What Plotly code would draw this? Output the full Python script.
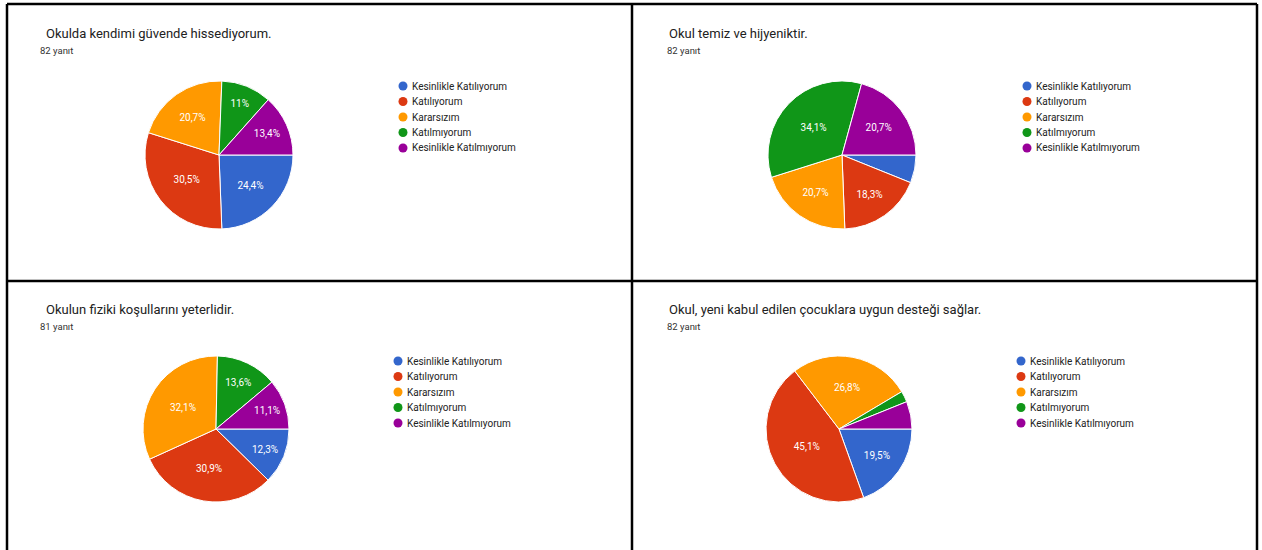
import plotly.graph_objects as go

W, H = 1262, 550

categories = ["Kesinlikle Katılıyorum", "Katılıyorum", "Kararsızım", "Katılmıyorum", "Kesinlikle Katılmıyorum"]
colors = ["#3366CC", "#DC3912", "#FF9900", "#109618", "#990099"]

titles = [
    "Okulda kendimi güvende hissediyorum.",
    "Okul temiz ve hijyeniktir.",
    "Okulun fiziki koşullarını yeterlidir.",
    "Okul, yeni kabul edilen çocuklara uygun desteği sağlar.",
]
subtitles = ["82 yanıt", "82 yanıt", "81 yanıt", "82 yanıt"]

# response counts per category (read from the percentages)
guvende = [20, 25, 17, 9, 11]
temiz = [5, 15, 17, 28, 17]
fiziki = [10, 25, 26, 11, 9]
destek = [16, 37, 22, 2, 5]
series = [guvende, temiz, fiziki, destek]

# panel layout (pixels): pie centre, radius, legend anchor, title anchor
panels = [
    dict(cx=219, cy=155, r=74, lx=403, ly=86, tx=44, ty=33, sx=38, sy=50),
    dict(cx=842, cy=155, r=74, lx=1027, ly=86, tx=667, ty=33, sx=665, sy=50),
    dict(cx=216, cy=429, r=73, lx=398, ly=361, tx=44, ty=309, sx=38, sy=326),
    dict(cx=839, cy=429, r=73, lx=1021, ly=361, tx=667, ty=309, sx=665, sy=326),
]


def px(x):
    return x / W


def py(y):
    return 1 - y / H


fig = go.Figure()
annotations = []
shapes = []
FONT = "Roboto, Arial, sans-serif"

for vals, title, sub, p in zip(series, titles, subtitles, panels):
    total = sum(vals)
    tt = ["%{percent}" if v / total >= 0.07 else "" for v in vals]
    fig.add_trace(go.Pie(
        labels=categories,
        values=vals,
        sort=False,
        direction="clockwise",
        rotation=90,
        marker=dict(colors=colors, line=dict(color="white", width=1)),
        textinfo="none",
        texttemplate=tt,
        textposition="inside",
        insidetextorientation="horizontal",
        textfont=dict(color="white", size=10, family=FONT),
        showlegend=False,
        domain=dict(x=[px(p["cx"] - p["r"]), px(p["cx"] + p["r"])],
                    y=[py(p["cy"] + p["r"]), py(p["cy"] - p["r"])]),
        hoverinfo="label+percent",
    ))
    annotations.append(dict(x=px(p["tx"]), y=py(p["ty"]), xref="paper", yref="paper",
                            xanchor="left", yanchor="middle", showarrow=False,
                            text=title, font=dict(size=13, color="#212121", family=FONT)))
    annotations.append(dict(x=px(p["sx"]), y=py(p["sy"]), xref="paper", yref="paper",
                            xanchor="left", yanchor="middle", showarrow=False,
                            text=sub, font=dict(size=9.5, color="#333333", family=FONT)))
    for i, (cat, col) in enumerate(zip(categories, colors)):
        yy = p["ly"] + i * 15.5
        shapes.append(dict(type="circle", xref="paper", yref="paper",
                           xsizemode="pixel", ysizemode="pixel",
                           xanchor=px(p["lx"]), yanchor=py(yy),
                           x0=-4.5, x1=4.5, y0=-4.5, y1=4.5,
                           fillcolor=col, line=dict(width=0)))
        annotations.append(dict(x=px(p["lx"] + 7), y=py(yy), xref="paper", yref="paper",
                                xanchor="left", yanchor="middle", showarrow=False,
                                text=cat, font=dict(size=10, color="#222222", family=FONT)))

# panel frame lines
frame = dict(color="black", width=2.5)
for x0, y0, x1, y1 in [
    (7, 4, 1257, 4),
    (7, 281, 1257, 281),
    (7, 4, 7, 550),
    (632, 4, 632, 550),
    (1257, 4, 1257, 550),
]:
    shapes.append(dict(type="line", xref="paper", yref="paper",
                       x0=px(x0), y0=py(y0), x1=px(x1), y1=py(y1), line=frame))

fig.update_layout(
    width=W, height=H,
    margin=dict(l=0, r=0, t=0, b=0),
    paper_bgcolor="white",
    plot_bgcolor="white",
    separators=",.",
    annotations=annotations,
    shapes=shapes,
    font=dict(family=FONT),
)

fig.write_html("out.html", config={"displayModeBar": False},
               post_script="document.body.style.margin='0';document.body.style.overflow='hidden';")
